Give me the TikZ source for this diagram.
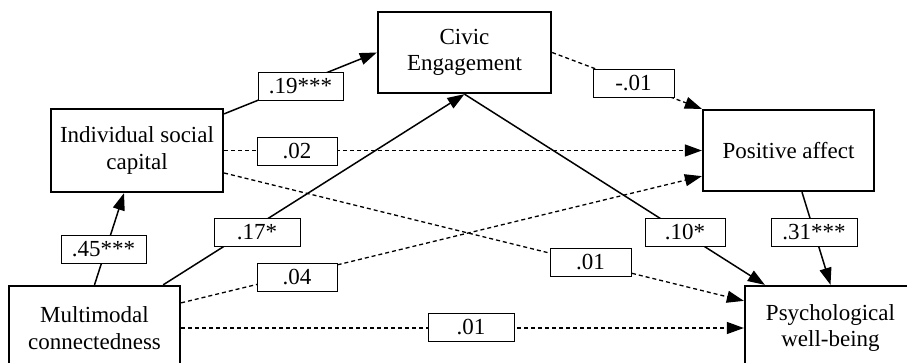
\documentclass[tikz,border=0pt]{standalone}
\usepackage{fontspec}
\setmainfont{Liberation Serif}
\usetikzlibrary{arrows.meta}
\begin{document}
\begin{tikzpicture}[x=1pt,y=-1pt,
  var/.style={draw,line width=2.3pt,align=center,inner sep=0pt,font=\fontsize{23}{26.5}\selectfont},
  lab/.style={draw,fill=white,line width=0.9pt,inner sep=0pt,minimum height=28pt,font=\fontsize{23}{26.5}\selectfont},
  tip/.style={-{Triangle[length=17pt,width=12pt]}},
  sol/.style={line width=1.5pt,tip},
  dsh/.style={line width=1.3pt,dash pattern=on 4pt off 3pt,tip}]
\useasboundingbox (0,0) rectangle (907,362);
\clip (0,0) rectangle (907,362);
% variables
\node[var,minimum width=172pt,minimum height=83pt] (isc) at (137,150.5) {Individual social\\capital};
\node[var,minimum width=173pt,minimum height=81pt] (ce) at (464.5,52.5) {Civic\\Engagement};
\node[var,minimum width=171pt,minimum height=81pt] (pa) at (788.5,150.5) {Positive affect};
\node[var,minimum width=171pt,minimum height=84pt] (mc) at (94.5,328) {Multimodal\\connectedness};
\node[var,minimum width=171pt,minimum height=84pt] (pwb) at (830.5,328) {Psychological\\well-being};
% paths
\draw[sol] (mc.north) -- ([xshift=-13pt]isc.south);
\draw[sol] ([yshift=-6pt]isc.north east) -- (ce.west);
\draw[sol] ([xshift=-18pt]mc.north east) -- (ce.south);
\draw[sol] (ce.south) -- ([xshift=21pt]pwb.north west);
\draw[sol] ([xshift=13.5pt]pa.south) -- (pwb.north);
\draw[dsh] (ce.east) -- (pa.north west);
\draw[dsh] (isc.east) -- (pa.west);
\draw[dsh] ([yshift=-22.5pt]isc.east) -- ([yshift=-16pt]pwb.north west);
\draw[dsh] ([yshift=-18pt]mc.north east) -- ([yshift=16pt]pa.south west);
\draw[dsh] (mc.east) -- (pwb.west);
% labels
\node[lab,minimum width=85pt] (l45) at (103.5,249) {.45***};
\node[lab,minimum width=85pt] (l19) at (300.5,86.5) {.19***};
\node[lab,minimum width=86pt] (l17) at (257,232) {.17*};
\node[lab,minimum width=80pt] (l02) at (297,151) {.02};
\node[lab,minimum width=80pt] (l04) at (297,277) {.04};
\node[lab,minimum width=86pt] (l01a) at (471,327) {.01};
\node[lab,minimum width=81pt] (l01b) at (590.5,262) {.01};
\node[lab,minimum width=81pt] (lm01) at (633.5,83) {-.01};
\node[lab,minimum width=80pt] (l10) at (685,232) {.10*};
\node[lab,minimum width=86pt] (l31) at (814,232) {.31***};
\end{tikzpicture}
\end{document}
